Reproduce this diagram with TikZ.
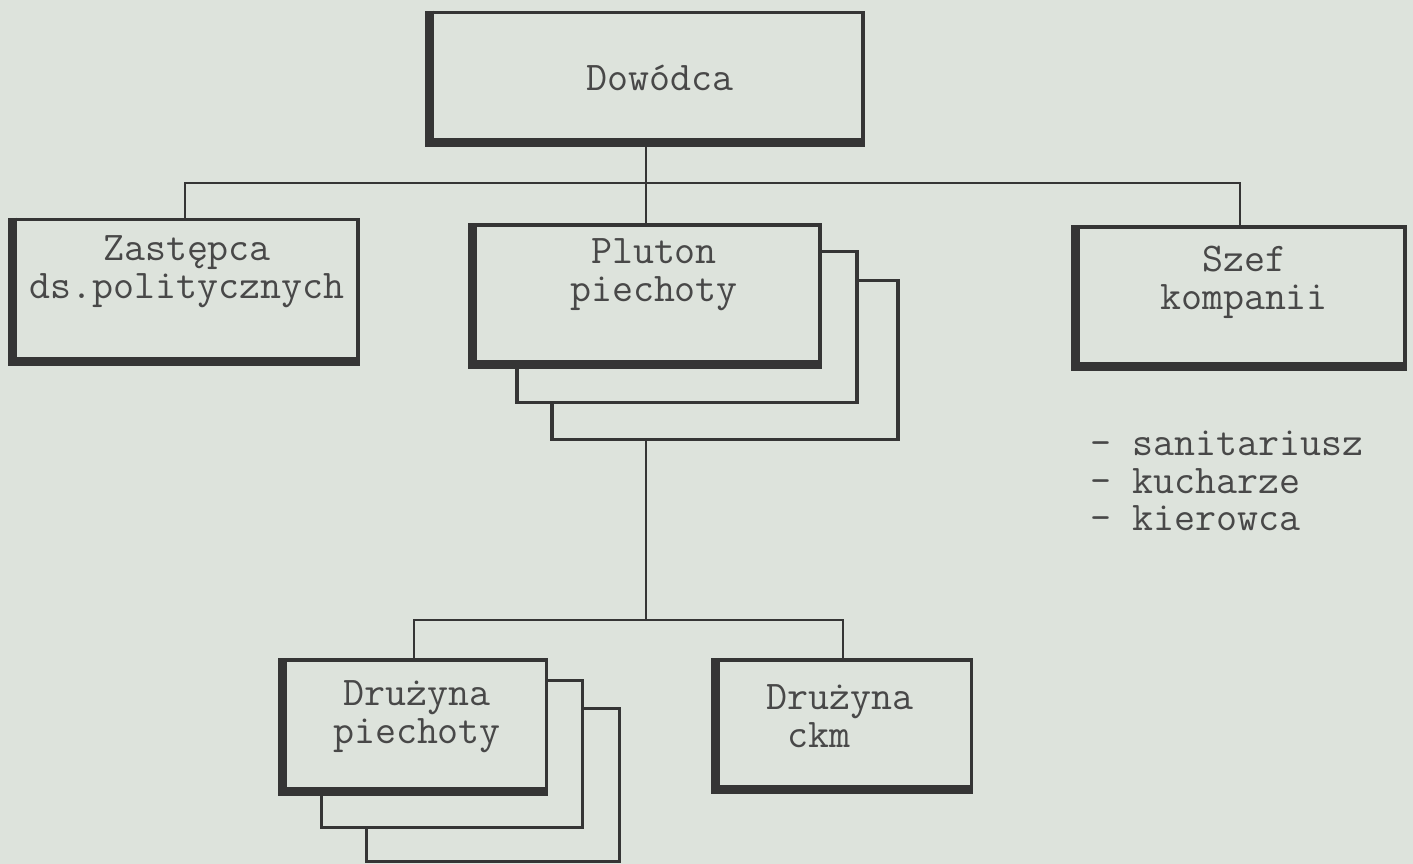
\documentclass[tikz,border=0pt]{standalone}
\usepackage{fontspec}
\usepackage{tikz}
\usetikzlibrary{calc}
\definecolor{paper}{HTML}{DDE3DC}
\definecolor{ink}{HTML}{353535}
\definecolor{type}{HTML}{484848}
\tikzset{
	box/.style={draw=ink,fill=paper,line width=2.2pt,rectangle,inner sep=0pt},
	backbox/.style={draw=ink,fill=paper,line width=1.9pt,rectangle,inner sep=0pt},
	heavy/.style={draw=ink,line width=5pt},
	link/.style={draw=ink,line width=1.2pt},
	txt/.style={text=type,font=\ttfamily\fontsize{23.2}{21.5}\selectfont,align=center,inner sep=0pt}
}

\begin{document}
\begin{tikzpicture}[x=0.02cm,y=-0.02cm]
	\fill[paper] (0,0) rectangle (1413,864);
	\useasboundingbox (0,0) rectangle (1413,864);
	
	% connectors
	\coordinate (hub) at (646,183);
	\coordinate (hub2) at (646,620);
	
	% boxes
	\node[box,minimum width=8.68cm,minimum height=2.62cm] (dow) at (646,78) {};
	\node[box,minimum width=6.92cm,minimum height=2.86cm] (zast) at (185,291) {};
	\node[backbox,minimum width=6.92cm,minimum height=3.18cm] (plut3) at (725,360) {};
	\node[backbox,minimum width=6.8cm,minimum height=3.02cm] (plut2) at (687,327) {};
	\node[box,minimum width=6.96cm,minimum height=2.8cm] (plut) at (646,295) {};
	\node[box,minimum width=6.6cm,minimum height=2.8cm] (szef) at (1240,297) {};
	\node[backbox,minimum width=5.06cm,minimum height=3.06cm] (drp3) at (493,785) {};
	\node[backbox,minimum width=5.22cm,minimum height=2.94cm] (drp2) at (452,754) {};
	\node[box,minimum width=5.3cm,minimum height=2.64cm] (drp) at (414,726) {};
	\node[box,minimum width=5.14cm,minimum height=2.6cm] (ckm) at (843,725) {};
	
	\draw[link] (dow) -- (plut);
	\draw[link] (zast.north) |- (hub) -| (szef.north);
	\draw[link] (plut3.south -| plut.south) -- (hub2);
	\draw[link] (drp.north) |- (hub2) -| (ckm.north);
	
	\foreach \b in {dow,zast,plut,szef,drp,ckm}
		\draw[heavy] ([xshift=1.5pt]\b.north west) -- ([shift={(1.5pt,1.5pt)}]\b.south west) -- ([yshift=1.5pt]\b.south east);
	
	% texts
	\node[txt] (dow-t) at (660,78) {Dowódca};
	\node[txt] (zast-t) at (187,272) {Zastępca\\ds.politycznych};
	\node[txt] (plut-t) at (654,275) {Pluton\\piechoty};
	\node[txt] (szef-t) at (1244,282) {Szef\\kompanii};
	\node[txt] (drp-t) at (417,717) {Drużyna\\piechoty};
	\node[txt,align=left] (ckm-t) at (840,716) {Drużyna\\\hphantom{x}ckm};
	\node[txt,align=left,anchor=west] (crew) at (1090,481) {- sanitariusz\\- kucharze\\- kierowca};
\end{tikzpicture}
\end{document}
